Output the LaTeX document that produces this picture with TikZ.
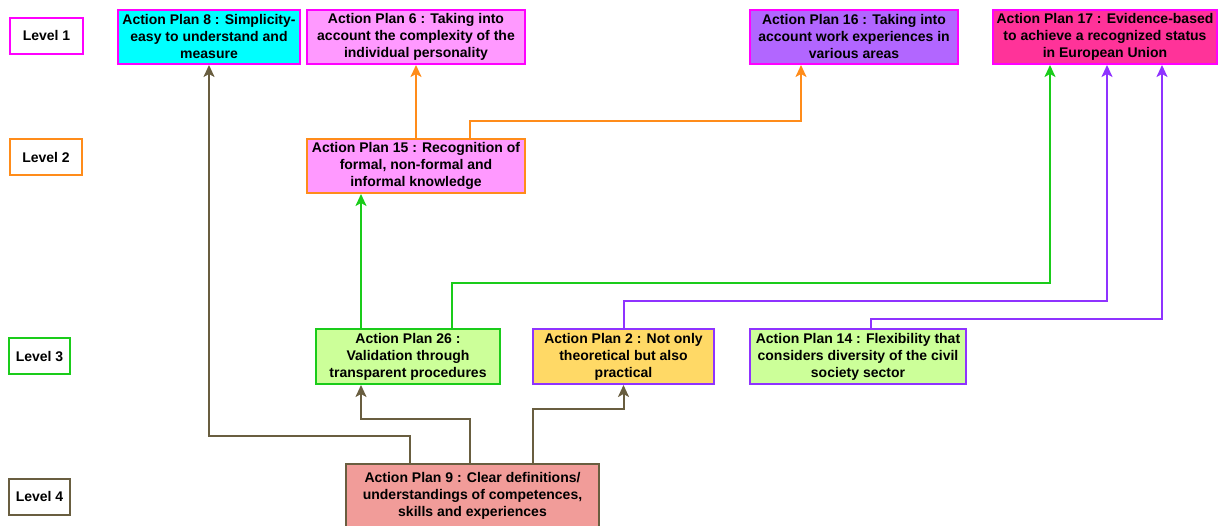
\documentclass[tikz,border=0pt]{standalone}
\usepackage{fontspec}
\setmainfont{Liberation Sans}
\usetikzlibrary{positioning, arrows.meta}
\definecolor{LevelMagenta}{RGB}{255, 0, 255}
\definecolor{LevelOrange}{RGB}{255, 140, 26}
\definecolor{LevelGreen}{RGB}{26, 204, 26}
\definecolor{LevelBrown}{RGB}{105, 94, 64}
\definecolor{LinkPurple}{RGB}{143, 51, 255}
\definecolor{FillCyan}{RGB}{0, 255, 255}
\definecolor{FillPink}{RGB}{255, 153, 255}
\definecolor{FillViolet}{RGB}{178, 102, 255}
\definecolor{FillRose}{RGB}{255, 51, 153}
\definecolor{FillLime}{RGB}{204, 255, 153}
\definecolor{FillGold}{RGB}{255, 217, 102}
\definecolor{FillSalmon}{RGB}{241, 156, 153}

\tikzset{
  levelbox/.style={draw=#1, line width=2pt, fill=white, minimum height=36pt,
    inner sep=0pt, font=\bfseries\fontsize{14}{17}\selectfont},
  planbox/.style={line width=2pt, inner sep=0pt, minimum height=54pt,
    align=center, font=\bfseries\fontsize{14}{17}\selectfont},
  link/.style={line width=2pt, -{Stealth[length=12pt, width=11pt, inset=3pt]}}
}

\begin{document}
\begin{tikzpicture}[x=1pt, y=1pt]
    \useasboundingbox (0,0) rectangle (1218,526);

    % Level labels
    \node[levelbox=LevelMagenta, minimum width=73pt] (lvone) at (46.5,490) {Level 1};
    \node[levelbox=LevelOrange, minimum width=72pt] (lvtwo) at (46,368.5) {Level 2};
    \node[levelbox=LevelGreen, minimum width=61pt] (lvthree) at (39.5,169.5) {Level 3};
    \node[levelbox=LevelBrown, minimum width=61pt] (lvfour) at (39.5,29) {Level 4};

    % Level 1 plans
    \node[planbox, draw=LevelMagenta, fill=FillCyan, minimum width=182pt] (ap8) at (209,489)
      {Action Plan 8 : Simplicity-\\easy to understand and\\measure};
    \node[planbox, draw=LevelMagenta, fill=FillPink, minimum width=218pt] (ap6) at (416,489)
      {Action Plan 6 : Taking into\\account the complexity of the\\individual personality};
    \node[planbox, draw=LevelMagenta, fill=FillViolet, minimum width=208pt] (ap16) at (854,489)
      {Action Plan 16 : Taking into\\account work experiences in\\various areas};
    \node[planbox, draw=LevelMagenta, fill=FillRose, minimum width=224pt] (ap17) at (1105,489)
      {Action Plan 17 : Evidence-based\\to achieve a recognized status\\in European Union};

    % Level 2 plan
    \node[planbox, draw=LevelOrange, fill=FillPink, minimum width=218pt] (ap15) at (416,360)
      {Action Plan 15 : Recognition of\\formal, non-formal and\\informal knowledge};

    % Level 3 plans
    \node[planbox, draw=LevelGreen, fill=FillLime, minimum width=184pt, minimum height=55pt] (ap26) at (408,169.5)
      {Action Plan 26 :\\Validation through\\transparent procedures};
    \node[planbox, draw=LinkPurple, fill=FillGold, minimum width=181pt, minimum height=55pt] (ap2) at (623.5,169.5)
      {Action Plan 2 : Not only\\theoretical but also\\practical};
    \node[planbox, draw=LinkPurple, fill=FillLime, minimum width=216pt, minimum height=55pt] (ap14) at (858,169.5)
      {Action Plan 14 : Flexibility that\\considers diversity of the civil\\society sector};

    % Level 4 plan
    \node[planbox, draw=LevelBrown, fill=FillSalmon, minimum width=253pt, minimum height=64pt] (ap9) at (472.5,30)
      {Action Plan 9 : Clear definitions/\\understandings of competences,\\skills and experiences};

    % Links from level 4
    \draw[link, LevelBrown] ([xshift=-62.5pt]ap9.north) -- ++(0,27) -| (ap8.south);
    \draw[link, LevelBrown] ([xshift=-2.5pt]ap9.north) -- ++(0,44) -| ([xshift=-47pt]ap26.south);
    \draw[link, LevelBrown] ([xshift=60.5pt]ap9.north) -- ++(0,54) -| (ap2.south);

    % Links from level 3
    \draw[link, LevelGreen] ([xshift=-47pt]ap26.north) -- ([xshift=-47pt]ap26.north |- ap15.south);
    \draw[link, LevelGreen] ([xshift=44pt]ap26.north) -- ++(0,45) -| ([xshift=-55pt]ap17.south);
    \draw[link, LinkPurple] (ap2.north) -- ++(0,27) -| ([xshift=2pt]ap17.south);
    \draw[link, LinkPurple] ([xshift=13pt]ap14.north) -- ++(0,9) -| ([xshift=57pt]ap17.south);

    % Links from level 2
    \draw[link, LevelOrange] (ap15.north) -- (ap6.south);
    \draw[link, LevelOrange] ([xshift=54pt]ap15.north) -- ++(0,17) -| ([xshift=-53pt]ap16.south);
\end{tikzpicture}
\end{document}
